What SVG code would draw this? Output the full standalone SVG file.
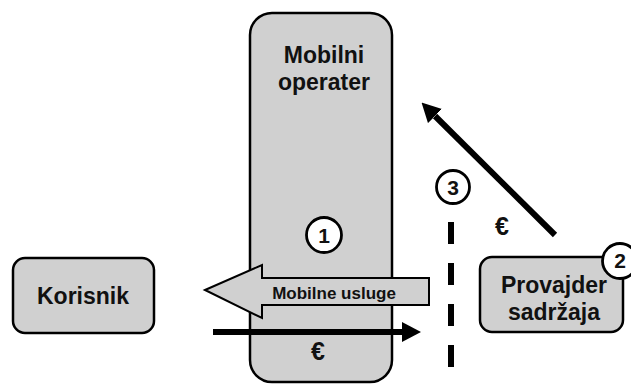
<svg xmlns="http://www.w3.org/2000/svg" width="631" height="384" viewBox="0 0 631 384">
  <style>
    .box { fill: #d0d0d0; stroke: #000; stroke-width: 2.5; }
    .lbl { font-family: "Liberation Sans", Arial, sans-serif; font-weight: bold; fill: #111; text-anchor: middle; }
    .big { font-size: 23px; }
    .num { font-size: 21px; }
    .cur { font-size: 25px; }
    .badge { fill: #fff; stroke: #000; stroke-width: 2.8; }
    .flow { stroke: #000; stroke-width: 6; fill: none; }
  </style>
  <defs>
    <marker id="head" markerUnits="userSpaceOnUse" markerWidth="19" markerHeight="20" viewBox="0 0 19 20" refX="0" refY="10" orient="auto">
      <path d="M0,0 L19,10 L0,20 Z" fill="#000"/>
    </marker>
  </defs>
  <rect width="631" height="384" fill="#fff"/>

  <g id="operator">
    <rect class="box" x="250" y="13" width="142" height="369" rx="22"/>
    <text class="lbl big" x="324" y="63">Mobilni</text>
    <text class="lbl big" x="324" y="90">operater</text>
    <circle class="badge" cx="324" cy="235" r="17.5"/>
    <text class="lbl num" x="324" y="243">1</text>
  </g>

  <g id="user">
    <rect class="box" x="13" y="258" width="141" height="75" rx="12"/>
    <text class="lbl big" x="83" y="304">Korisnik</text>
  </g>

  <g id="provider">
    <rect class="box" x="480" y="257" width="143" height="75" rx="12"/>
    <text class="lbl big" x="554" y="293">Provajder</text>
    <text class="lbl big" x="554" y="320">sadržaja</text>
    <circle class="badge" cx="620" cy="261" r="17.5"/>
    <text class="lbl num" x="620" y="268">2</text>
  </g>

  <g id="boundary">
    <line x1="451" y1="222" x2="451" y2="368" stroke="#000" stroke-width="6" stroke-dasharray="22 19"/>
    <circle class="badge" cx="453" cy="187" r="16.5"/>
    <text class="lbl num" x="453" y="195">3</text>
  </g>

  <g id="connectors">
    <path d="M205,290 L262,265 L262,278 L429,278 L429,305 L262,305 L262,318 Z" fill="#d0d0d0" stroke="#000" stroke-width="2"/>
    <text class="lbl" x="334" y="299" font-size="17">Mobilne usluge</text>
    <line class="flow" x1="213" y1="332" x2="402" y2="332" marker-end="url(#head)"/>
    <text class="lbl cur" x="318" y="360">€</text>
    <line class="flow" x1="555" y1="235" x2="435" y2="116" marker-end="url(#head)"/>
    <text class="lbl cur" x="502" y="235">€</text>
  </g>
</svg>
